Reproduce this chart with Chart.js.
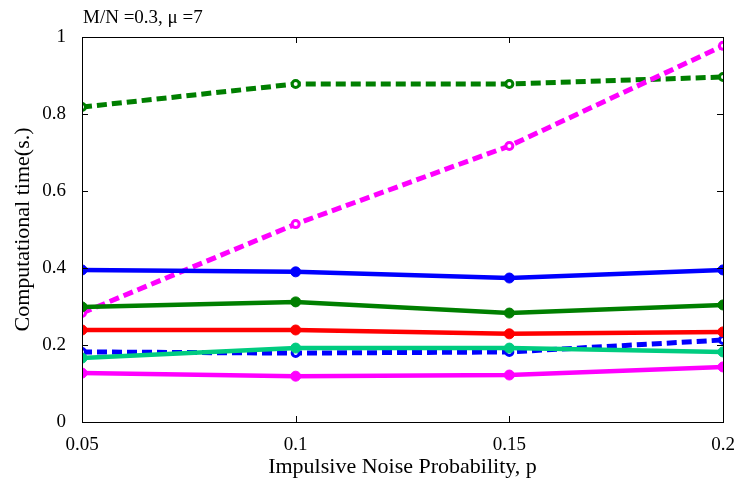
<!DOCTYPE html>
<html>
<head>
<meta charset="utf-8">
<script src="https://cdn.jsdelivr.net/npm/chart.js@4"></script>
<style>
  html, body { margin: 0; padding: 0; background: #fff; }
  #wrap { width: 740px; height: 486px; position: relative; }
</style>
</head>
<body>
<div id="wrap"><canvas id="timeChart"></canvas></div>
<script>
const probs = [0.05, 0.1, 0.15, 0.2];
const xTicks = [0.05, 0.1, 0.15, 0.2];
const yTicks = [0, 0.2, 0.4, 0.6, 0.8, 1];

const greenDashed = [0.818, 0.878, 0.878, 0.896];
const magentaDashed = [0.283, 0.514, 0.717, 0.977];
const blueSolid = [0.395, 0.390, 0.374, 0.395];
const greenSolid = [0.299, 0.312, 0.283, 0.304];
const redSolid = [0.239, 0.239, 0.229, 0.234];
const tealSolid = [0.166, 0.192, 0.192, 0.182];
const blueDashed = [0.182, 0.179, 0.182, 0.213];
const magentaSolid = [0.127, 0.119, 0.122, 0.143];

const serif = "'Liberation Serif', 'DejaVu Serif', serif";

const toPoints = (vals) => vals.map((v, i) => ({ x: probs[i], y: v }));

const makeSet = (vals, color, dashed) => ({
  data: toPoints(vals),
  borderColor: color,
  backgroundColor: dashed ? "#ffffff" : color,
  pointBorderColor: color,
  borderWidth: dashed ? 5 : 4.5,
  borderDash: dashed ? [10, 5] : [],
  pointRadius: dashed ? 3.5 : 5,
  pointBorderWidth: dashed ? 3 : 1,
  pointStyle: "circle",
  tension: 0,
  fill: false,
});

// box around the plot, inward ticks on all four sides, and the note at top
const framePlugin = {
  id: "frame",
  afterDraw(chart) {
    const { ctx, chartArea: a, scales } = chart;
    ctx.save();
    ctx.strokeStyle = "#000";
    ctx.lineWidth = 1;
    ctx.strokeRect(a.left + 0.5, a.top + 0.5, a.right - a.left, a.bottom - a.top);
    ctx.beginPath();
    xTicks.forEach((t) => {
      const x = Math.round(scales.x.getPixelForValue(t)) + 0.5;
      ctx.moveTo(x, a.bottom); ctx.lineTo(x, a.bottom - 6);
      ctx.moveTo(x, a.top); ctx.lineTo(x, a.top + 6);
    });
    yTicks.forEach((t) => {
      const y = Math.round(scales.y.getPixelForValue(t)) + 0.5;
      ctx.moveTo(a.left, y); ctx.lineTo(a.left + 6, y);
      ctx.moveTo(a.right, y); ctx.lineTo(a.right - 6, y);
    });
    ctx.stroke();
    ctx.fillStyle = "#000";
    ctx.font = "19px " + serif;
    ctx.textAlign = "left";
    ctx.textBaseline = "alphabetic";
    ctx.fillText("M/N =0.3, \u03bc =7", a.left + 1, a.top - 14);
    ctx.restore();
  },
};

new Chart(document.getElementById("timeChart"), {
  type: "line",
  data: {
    datasets: [
      makeSet(magentaSolid, "#ff00ff", false),
      makeSet(tealSolid, "#00cc80", false),
      makeSet(redSolid, "#ff0000", false),
      makeSet(greenSolid, "#007f00", false),
      makeSet(blueSolid, "#0000ff", false),
      makeSet(blueDashed, "#0000ff", true),
      makeSet(magentaDashed, "#ff00ff", true),
      makeSet(greenDashed, "#007f00", true),
    ],
  },
  options: {
    responsive: true,
    maintainAspectRatio: false,
    animation: false,
    layout: { padding: { top: 37, right: 17, left: 0, bottom: 0 } },
    plugins: { legend: { display: false }, tooltip: { enabled: false } },
    scales: {
      x: {
        type: "linear",
        min: 0.05,
        max: 0.2,
        afterBuildTicks: (scale) => { scale.ticks = xTicks.map((v) => ({ value: v })); },
        afterFit: (scale) => { scale.height = 64; },
        grid: { display: false },
        border: { display: false },
        ticks: {
          color: "#000",
          padding: 4,
          maxRotation: 0,
          font: { family: serif, size: 19 },
          callback: (v) => String(parseFloat(v.toFixed(2))),
        },
        title: {
          display: true,
          text: "Impulsive Noise Probability, p",
          color: "#000",
          font: { family: serif, size: 22 },
          padding: { top: 0, bottom: 6 },
        },
      },
      y: {
        min: 0,
        max: 1,
        afterBuildTicks: (scale) => { scale.ticks = yTicks.map((v) => ({ value: v })); },
        afterFit: (scale) => { scale.width = 82; },
        grid: { display: false },
        border: { display: false },
        ticks: {
          color: "#000",
          padding: 8,
          font: { family: serif, size: 19 },
          callback: (v) => String(parseFloat(v.toFixed(1))),
        },
        title: {
          display: true,
          text: "Computational time(s.)",
          color: "#000",
          font: { family: serif, size: 22 },
          padding: { top: 10, bottom: 4 },
        },
      },
    },
  },
  plugins: [framePlugin],
});
</script>
</body>
</html>
